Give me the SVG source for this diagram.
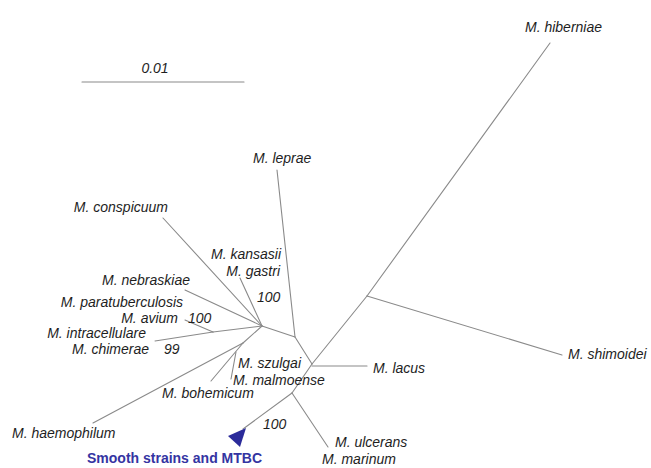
<svg xmlns="http://www.w3.org/2000/svg" width="651" height="468" viewBox="0 0 651 468">
<style>
.e{stroke:#8a8a8a;stroke-width:1.1;fill:none;stroke-linecap:round}
.t{font-family:"Liberation Sans",Arial,sans-serif;font-size:14px;font-style:italic;fill:#1e1e1e}
.r{text-anchor:end}
.b{font-family:"Liberation Sans",Arial,sans-serif;font-size:14px;font-weight:bold;fill:#3434a2}
</style>
<rect width="651" height="468" fill="#fff"/>
<g id="scale">
<line class="e" x1="82" y1="82" x2="244" y2="82"/>
<text class="t" x="155" y="73" text-anchor="middle">0.01</text>
</g>
<g id="connectors">
<line class="e" x1="550" y1="43" x2="367" y2="296"/>
<line class="e" x1="367" y1="296" x2="312" y2="364"/>
<line class="e" x1="367" y1="296" x2="562" y2="355"/>
<line class="e" x1="312" y1="366" x2="367" y2="366"/>
<line class="e" x1="312" y1="364" x2="295" y2="337"/>
<line class="e" x1="277" y1="170" x2="295" y2="337"/>
<line class="e" x1="295" y1="337" x2="262" y2="326"/>
<line class="e" x1="163" y1="218" x2="262" y2="326"/>
<line class="e" x1="240" y1="278" x2="262" y2="326"/>
<line class="e" x1="185" y1="290" x2="262" y2="326"/>
<line class="e" x1="213" y1="332" x2="262" y2="326"/>
<line class="e" x1="185" y1="320" x2="213" y2="332"/>
<line class="e" x1="155" y1="341" x2="213" y2="332"/>
<line class="e" x1="262" y1="326" x2="243" y2="343"/>
<line class="e" x1="243" y1="343" x2="93" y2="423"/>
<line class="e" x1="243" y1="343" x2="211" y2="381"/>
<line class="e" x1="236" y1="352" x2="231" y2="379"/>
<line class="e" x1="312" y1="364" x2="292" y2="393"/>
<line class="e" x1="292" y1="393" x2="243" y2="429"/>
<line class="e" x1="292" y1="393" x2="328" y2="447"/>
</g>
<g id="mtbc">
<polygon points="228,436 246,428 240,447" fill="#2b2b9a"/>
<text class="b" x="87" y="463">Smooth strains and MTBC</text>
<text class="t" x="263" y="429">100</text>
</g>
<g id="hiberniae"><text class="t" x="525" y="32">M. hiberniae</text></g>
<g id="shimoidei"><text class="t" x="568" y="359">M. shimoidei</text></g>
<g id="lacus"><text class="t" x="373" y="373">M. lacus</text></g>
<g id="leprae"><text class="t" x="253" y="163">M. leprae</text></g>
<g id="conspicuum"><text class="t r" x="168" y="212">M. conspicuum</text></g>
<g id="kansasii"><text class="t r" x="281" y="259">M. kansasii</text>
<text class="t r" x="280" y="276">M. gastri</text>
<text class="t" x="257" y="302">100</text></g>
<g id="nebraskiae"><text class="t r" x="190" y="285">M. nebraskiae</text></g>
<g id="avium"><text class="t r" x="183" y="307">M. paratuberculosis</text>
<text class="t r" x="178" y="322.5">M. avium</text>
<text class="t" x="188" y="322.5">100</text></g>
<g id="intracellulare"><text class="t r" x="146" y="338">M. intracellulare</text>
<text class="t r" x="149" y="353.5">M. chimerae</text>
<text class="t" x="164" y="353.5">99</text></g>
<g id="szulgai"><text class="t" x="238" y="368">M. szulgai</text>
<text class="t" x="233" y="385">M. malmoense</text></g>
<g id="bohemicum"><text class="t" x="162" y="398">M. bohemicum</text></g>
<g id="haemophilum"><text class="t" x="12" y="438">M. haemophilum</text></g>
<g id="ulcerans"><text class="t" x="335" y="447">M. ulcerans</text>
<text class="t" x="322" y="464">M. marinum</text></g>
</svg>
